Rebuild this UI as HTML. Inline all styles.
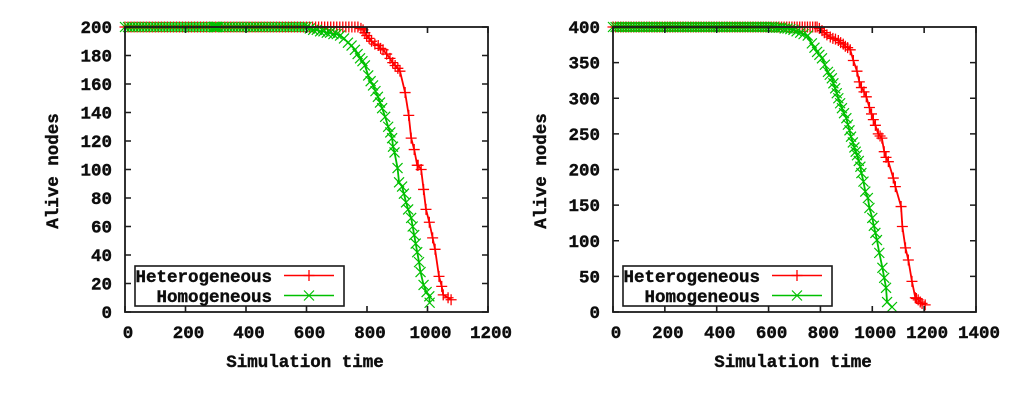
<!DOCTYPE html>
<html>
<head>
<meta charset="utf-8">
<title>Alive nodes over simulation time</title>
<style>
html,body{margin:0;padding:0;background:#fff;width:1024px;height:401px;overflow:hidden}
svg{display:block}
text{font-family:"Liberation Mono",monospace;font-weight:bold;font-size:17.5px;fill:#111;stroke:#111;stroke-width:0.4px}
</style>
</head>
<body>
<svg id="figure" width="1024" height="401" viewBox="0 0 1024 401" xmlns="http://www.w3.org/2000/svg">
<defs><filter id="soft" x="-5%" y="-5%" width="110%" height="110%"><feGaussianBlur stdDeviation="0.35"/></filter></defs>
<g id="root" filter="url(#soft)"></g>
</svg>
<script>
var xTicksA = [0, 200, 400, 600, 800, 1000, 1200];
var yTicksA = [0, 20, 40, 60, 80, 100, 120, 140, 160, 180, 200];
var xTicksB = [0, 200, 400, 600, 800, 1000, 1200, 1400];
var yTicksB = [0, 50, 100, 150, 200, 250, 300, 350, 400];

var heteroTimeA = [0,10,20,30,40,50,60,70,80,90,100,110,120,130,140,150,160,170,180,190,200,210,220,230,240,250,260,270,280,290,300,310,320,330,340,350,360,370,380,390,400,410,420,430,440,450,460,470,480,490,500,510,520,530,540,550,560,570,580,590,600,610,620,630,640,650,660,670,680,690,700,710,720,730,740,750,760,770,780,787,793,799,807,815,826,837,845,853,865,876,885,893,902,909,926,938,946,956,966,969,979,987,995,1006,1017,1025,1038,1047,1052,1068,1078];
var heteroAliveA = [200,200,200,200,200,200,200,200,200,200,200,200,200,200,200,200,200,200,200,200,200,200,200,200,200,200,200,200,200,200,200,200,200,200,200,200,200,200,200,200,200,200,200,200,200,200,200,200,200,200,200,200,200,200,200,200,200,200,200,200,200,200,200,200,200,200,200,200,200,200,200,200,200,200,200,200,200,200,199,198,196,194,192,190,188,187,185,184,181,178,175,173,171,169,154,138,122,114,103,103,100,86,72,63,52,44,25,18,12,10,8.6];
var homoTimeA = [0,10,20,30,40,50,60,70,80,90,100,110,120,130,140,150,160,170,180,190,200,210,220,230,240,250,260,270,280,290,295,298,300,302,305,310,320,330,340,350,360,370,380,390,400,410,420,430,440,450,460,470,480,490,500,510,520,530,540,550,560,570,580,590,600,611,622,634,645,656,667,678,689,700,711,724,737,749,760,769,777,785,793,804,812,820,828,836,843,850,860,870,877,883,886,891,901,906,916,922,929,936,946,951,956,961,966,972,977,987,997,1006,1007];
var homoAliveA = [200,200,200,200,200,200,200,200,200,200,200,200,200,200,200,200,200,200,200,200,200,200,200,200,200,200,200,200,200,200,200,200,200,200,200,200,200,200,200,200,200,200,200,200,200,200,200,200,200,200,200,200,200,200,200,200,200,200,200,200,200,200,200,200,200,199,198,198,197,197,196,196,195,195,194,192,189,187,184,181,178,176,173,166,162,159,155,151,147,143,137,130,126,122,116,112,101,91,88,83,77,72,66,60,54,48,42,35,28,19,14,11,6.5];

var heteroTimeB = [0,10,20,30,40,50,60,70,80,90,100,110,120,130,140,150,160,170,180,190,200,210,220,230,240,250,260,270,280,290,300,310,320,330,340,350,360,370,380,390,400,410,420,430,440,450,460,470,480,490,500,510,520,530,540,550,560,570,580,590,600,610,620,630,640,650,660,670,680,690,700,710,720,730,740,750,760,770,780,787,796,806,815,825,838,848,858,869,878,888,896,905,915,927,941,950,958,968,977,989,997,1004,1012,1023,1030,1037,1046,1053,1062,1081,1089,1111,1116,1128,1139,1153,1166,1170,1177,1185,1192,1204];
var heteroAliveB = [400,400,400,400,400,400,400,400,400,400,400,400,400,400,400,400,400,400,400,400,400,400,400,400,400,400,400,400,400,400,400,400,400,400,400,400,400,400,400,400,400,400,400,400,400,400,400,400,400,400,400,400,400,400,400,400,400,400,400,400,400,400,400,400,400,400,400,400,400,400,400,400,400,400,400,400,400,400,400,400,398,395,392,389,386,384,383,381,378,376,373,371,368,353,338,323,315,309,302,287,278,270,262,250,247,244,225,217,211,188,176,148,120,90,73,43,20,19,17,14,12,10];
var homoTimeB = [0,10,20,30,40,50,60,70,80,90,100,110,120,130,140,150,160,170,180,190,200,210,220,230,240,250,260,270,280,290,300,310,320,330,340,350,360,370,380,390,400,410,420,430,440,450,460,470,480,490,500,510,520,530,540,550,560,570,580,590,600,610,620,630,640,650,662,673,684,696,708,722,735,751,767,777,787,796,806,817,829,836,844,850,857,863,869,876,883,891,900,906,912,918,925,931,936,941,948,954,958,966,973,983,989,1000,1006,1012,1018,1027,1039,1046,1053,1057,1076];
var homoAliveB = [400,400,400,400,400,400,400,400,400,400,400,400,400,400,400,400,400,400,400,400,400,400,400,400,400,400,400,400,400,400,400,400,400,400,400,400,400,400,400,400,400,400,400,400,400,400,400,400,400,400,400,400,400,400,400,400,400,400,400,400,400,400,400,399,399,399,398,398,397,396,394,392,390,388,377,371,365,361,356,347,337,333,328,321,314,307,300,293,286,279,272,263,255,246,238,231,225,220,212,204,195,183,169,160,146,132,121,111,101,83,62,48,34,14,7];

var svgNS = 'http://www.w3.org/2000/svg';
var root = document.getElementById('root');
var RED = '#ff0000';
var GREEN = '#00c000';
var INK = '#1a1a1a';

function make(tag, attrs, parent) {
  var el = document.createElementNS(svgNS, tag);
  for (var k in attrs) el.setAttribute(k, attrs[k]);
  parent.appendChild(el);
  return el;
}
function plusMark(parent, px, py, size, color) {
  var m = make('path', {d: 'M' + (px - size) + ' ' + py + 'H' + (px + size) + 'M' + px + ' ' + (py - size) + 'V' + (py + size), stroke: color, 'stroke-width': 1.3, fill: 'none'}, parent);
  
  
}
function crossMark(parent, px, py, size, color) {
  var m = make('path', {d: 'M' + (px - size) + ' ' + (py - size) + 'L' + (px + size) + ' ' + (py + size) + 'M' + (px - size) + ' ' + (py + size) + 'L' + (px + size) + ' ' + (py - size), stroke: color, 'stroke-width': 1.2, fill: 'none'}, parent);
  
  
}
function drawSeries(parent, times, alive, xf, yf, color, mark, size, name) {
  var g = make('g', {}, parent);
  
  
  var d = '';
  for (var i = 0; i < times.length; i++) {
    d += (i ? 'L' : 'M') + xf(times[i]).toFixed(2) + ' ' + yf(alive[i]).toFixed(2);
  }
  var line = make('path', {d: d, stroke: color, 'stroke-width': 1.8, fill: 'none'}, g);
  
  
  for (var j = 0; j < times.length; j++) {
    mark(g, xf(times[j]), yf(alive[j]), size, color);
  }
}
function drawChart(o) {
  var g = make('g', {}, root);
  
  
  var xf = function (v) { return o.left + (v - 0) / o.xMax * (o.right - o.left); };
  var yf = function (v) { return o.bottom - v / o.yMax * (o.bottom - o.top); };

  drawSeries(g, o.heteroTime, o.heteroAlive, xf, yf, RED, plusMark, 5.5, 'heterogeneous-series');
  drawSeries(g, o.homoTime, o.homoAlive, xf, yf, GREEN, crossMark, 5, 'homogeneous-series');

  var frame = make('rect', {x: o.left, y: o.top, width: o.right - o.left, height: o.bottom - o.top, fill: 'none', stroke: INK, 'stroke-width': 1.8}, g);
  
  

  o.xTicks.forEach(function (t) {
    var px = xf(t);
    var tick = make('path', {d: 'M' + px + ' ' + o.bottom + 'v-6M' + px + ' ' + o.top + 'v6', stroke: INK, 'stroke-width': 1.6}, g);
    
    
    var label = make('text', {x: px + 3, y: 338, 'text-anchor': 'middle'}, g);
    label.textContent = String(t);
    
    
  });
  o.yTicks.forEach(function (t) {
    var py = yf(t);
    var tick = make('path', {d: 'M' + o.left + ' ' + py + 'h6M' + o.right + ' ' + py + 'h-6', stroke: INK, 'stroke-width': 1.6}, g);
    
    
    var label = make('text', {x: o.left - 13, y: py + 6, 'text-anchor': 'end'}, g);
    label.textContent = String(t);
    
    
  });

  var xTitle = make('text', {x: o.left + 180, y: 367, 'text-anchor': 'middle'}, g);
  xTitle.textContent = 'Simulation time';
  
  

  var yTitle = make('text', {transform: 'translate(' + (o.left - 67) + ' 171) rotate(-90)', 'text-anchor': 'middle'}, g);
  yTitle.textContent = 'Alive nodes';
  
  

  var legend = make('g', {}, g);
  
  
  var box = make('rect', {x: o.left + 10, y: 266, width: 209, height: 40, fill: '#fff', stroke: INK, 'stroke-width': 1.6}, legend);
  
  

  var t1 = make('text', {x: o.legendTextEnd, y: 282, 'text-anchor': 'end'}, legend);
  t1.textContent = 'Heterogeneous';
  
  
  var t2 = make('text', {x: o.legendTextEnd, y: 302, 'text-anchor': 'end'}, legend);
  t2.textContent = 'Homogeneous';
  
  

  var lx = o.legendTextEnd + 12;
  var l1 = make('path', {d: 'M' + lx + ' 275.5h50', stroke: RED, 'stroke-width': 1.6}, legend);
  
  
  plusMark(legend, lx + 25, 275.5, 5.5, RED);
  var l2 = make('path', {d: 'M' + lx + ' 295.5h50', stroke: GREEN, 'stroke-width': 1.6}, legend);
  
  
  crossMark(legend, lx + 25, 295.5, 5, GREEN);
}

drawChart({name: 'chart-200-nodes', left: 125, right: 488, top: 27, bottom: 312, xMax: 1200, yMax: 200, legendTextEnd: 272,
  xTicks: xTicksA, yTicks: yTicksA, heteroTime: heteroTimeA, heteroAlive: heteroAliveA, homoTime: homoTimeA, homoAlive: homoAliveA});
drawChart({name: 'chart-400-nodes', left: 613, right: 976, top: 27, bottom: 312, xMax: 1400, yMax: 400, legendTextEnd: 760,
  xTicks: xTicksB, yTicks: yTicksB, heteroTime: heteroTimeB, heteroAlive: heteroAliveB, homoTime: homoTimeB, homoAlive: homoAliveB});
</script>
</body>
</html>
